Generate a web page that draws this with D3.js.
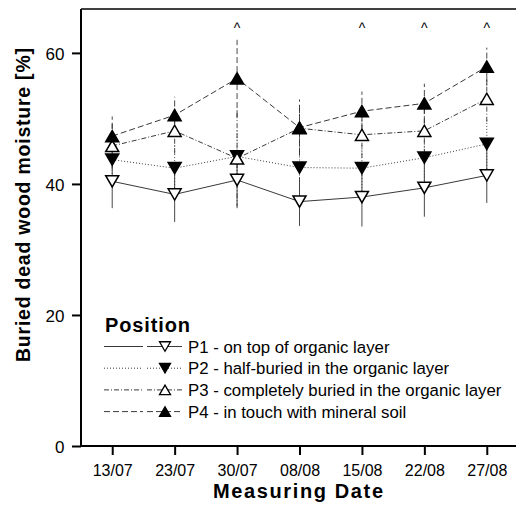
<!DOCTYPE html>
<html>
<head>
<meta charset="utf-8">
<script src="https://cdn.jsdelivr.net/npm/d3@7"></script>
<style>
  html, body { margin: 0; padding: 0; background: #fff; }
  svg { display: block; font-family: Arial, "Liberation Sans", sans-serif; }
</style>
</head>
<body>
<svg id="chart" width="516" height="511"></svg>
<script>
// Measuring dates
const dates = ["13/07", "23/07", "30/07", "08/08", "15/08", "22/08", "27/08"];

// Mean moisture [%] per position
const p1Values = [40.4, 38.4, 40.6, 37.3, 38.0, 39.4, 41.3];
const p2Values = [43.7, 42.4, 44.2, 42.5, 42.4, 44.0, 46.1];
const p3Values = [45.8, 48.1, 43.9, 48.5, 47.5, 48.1, 53.0];
const p4Values = [47.3, 50.5, 56.1, 48.6, 51.1, 52.3, 57.9];

// Standard deviations
const p1Sd = [4.1, 4.2, 4.0, 3.7, 4.5, 4.4, 4.2];
const p2Sd = [3.5, 3.5, 4.0, 3.5, 3.5, 3.5, 3.8];
const p3Sd = [3.5, 3.5, 7.6, 3.8, 3.5, 3.5, 3.5];
const p4Sd = [3.0, 2.8, 5.9, 4.3, 3.0, 3.0, 2.9];

// Dates with a significant difference between positions
const significantDates = ["30/07", "15/08", "22/08", "27/08"];

const yTicks = [0, 20, 40, 60];

const seriesLabels = [
  "P1 - on top of organic layer",
  "P2 - half-buried in the organic layer",
  "P3 - completely buried in the organic layer",
  "P4 - in touch with mineral soil"
];

const series = [
  { label: seriesLabels[0], values: p1Values, sd: p1Sd, dash: null,      down: true,  filled: false },
  { label: seriesLabels[1], values: p2Values, sd: p2Sd, dash: "1,2",     down: true,  filled: true  },
  { label: seriesLabels[2], values: p3Values, sd: p3Sd, dash: "5,2,1,2", down: false, filled: false },
  { label: seriesLabels[3], values: p4Values, sd: p4Sd, dash: "6,3",     down: false, filled: true  }
];

const svg = d3.select("#chart");
const plotLeft = 81, plotTop = 9, plotBottom = 446, plotRight = 518;
const font = "Arial, 'Liberation Sans', sans-serif";

const x = d3.scalePoint().domain(dates).range([plotLeft, plotRight]).padding(0.5);
const y = d3.scaleLinear().domain([0, 66.7]).range([plotBottom, plotTop]);

// Frame: top border
svg.append("line").attr("x1", plotLeft).attr("x2", plotRight).attr("y1", plotTop).attr("y2", plotTop)
  .attr("stroke", "#000").attr("stroke-width", 1.6);

// Y axis
const yAxis = svg.append("g").attr("transform", `translate(${plotLeft},0)`)
  .call(d3.axisLeft(y).tickValues(yTicks).tickSize(9).tickPadding(7.5));
yAxis.select(".domain").attr("stroke-width", 2).attr("d", `M0,${plotTop}V${plotBottom}`);
yAxis.selectAll(".tick line").attr("stroke-width", 2);
yAxis.selectAll(".tick text").attr("font-size", 17).attr("fill", "#000")
  .attr("font-family", font).attr("dy", "0.38em");

// X axis
const xAxis = svg.append("g").attr("transform", `translate(0,${plotBottom})`)
  .call(d3.axisBottom(x).tickSize(9).tickPadding(10));
xAxis.select(".domain").attr("stroke-width", 2).attr("d", `M${plotLeft},0H${plotRight}`);
xAxis.selectAll(".tick line").attr("stroke-width", 2);
xAxis.selectAll(".tick text").attr("font-size", 16).attr("fill", "#000")
  .attr("font-family", font);

// Axis titles
svg.append("text")
  .attr("transform", `translate(30,205) rotate(-90)`)
  .attr("text-anchor", "middle")
  .attr("font-size", 19.5).attr("font-weight", "bold")
  .attr("textLength", 314).attr("lengthAdjust", "spacing")
  .text("Buried dead wood moisture [%]");

svg.append("text")
  .attr("x", 298).attr("y", 498)
  .attr("text-anchor", "middle")
  .attr("font-size", 20).attr("font-weight", "bold")
  .attr("textLength", 170).attr("lengthAdjust", "spacing")
  .text("Measuring Date");

// Triangle marker path centred on (0,0)
function triangle(down, s) {
  const h = s * 0.866;
  return down
    ? `M${-s / 2},${-h / 2}L${s / 2},${-h / 2}L0,${h / 2}Z`
    : `M${-s / 2},${h / 2}L${s / 2},${h / 2}L0,${-h / 2}Z`;
}

const line = d3.line().x((d, i) => x(dates[i])).y(d => y(d));

// Connecting lines
series.forEach(s => {
  svg.append("path")
    .attr("d", line(s.values))
    .attr("fill", "none")
    .attr("stroke", "#222")
    .attr("stroke-width", 0.9)
    .attr("stroke-dasharray", s.dash);
});

// Error bars
series.forEach(s => {
  svg.append("g").selectAll("line")
    .data(s.values)
    .join("line")
    .attr("x1", (d, i) => x(dates[i]))
    .attr("x2", (d, i) => x(dates[i]))
    .attr("y1", (d, i) => y(d - s.sd[i]))
    .attr("y2", (d, i) => y(d + s.sd[i]))
    .attr("stroke", "#333")
    .attr("stroke-width", 0.9)
    .attr("stroke-dasharray", s.dash);
});

// Markers
series.forEach(s => {
  svg.append("g").selectAll("path")
    .data(s.values)
    .join("path")
    .attr("transform", (d, i) => `translate(${x(dates[i])},${y(d)})`)
    .attr("d", triangle(s.down, 13))
    .attr("fill", s.filled ? "#000" : "#fff")
    .attr("stroke", "#000")
    .attr("stroke-width", 1.5);
});

// Significance markers
svg.append("g").selectAll("text")
  .data(significantDates)
  .join("text")
  .attr("x", d => x(d))
  .attr("y", 33)
  .attr("text-anchor", "middle")
  .attr("font-size", 14)
  .text("^");

// Legend
const legend = svg.append("g");
legend.append("text")
  .attr("x", 105).attr("y", 332)
  .attr("font-size", 20).attr("font-weight", "bold")
  .attr("textLength", 85).attr("lengthAdjust", "spacing")
  .text("Position");

series.forEach((s, i) => {
  const ly = 346.5 + i * 21.7;
  const g = legend.append("g");
  [[104, 143], [147, 182]].forEach(([a, b]) => {
    g.append("line")
      .attr("x1", a).attr("x2", b).attr("y1", ly).attr("y2", ly)
      .attr("stroke", "#222").attr("stroke-width", 0.9)
      .attr("stroke-dasharray", s.dash);
  });
  g.append("path")
    .attr("transform", `translate(165,${ly})`)
    .attr("d", triangle(s.down, 11))
    .attr("fill", s.filled ? "#000" : "#fff")
    .attr("stroke", "#000").attr("stroke-width", 1.3);
  g.append("text")
    .attr("x", 188).attr("y", ly + 6)
    .attr("font-size", 16.8)
    .text(s.label);
});
</script>
</body>
</html>
